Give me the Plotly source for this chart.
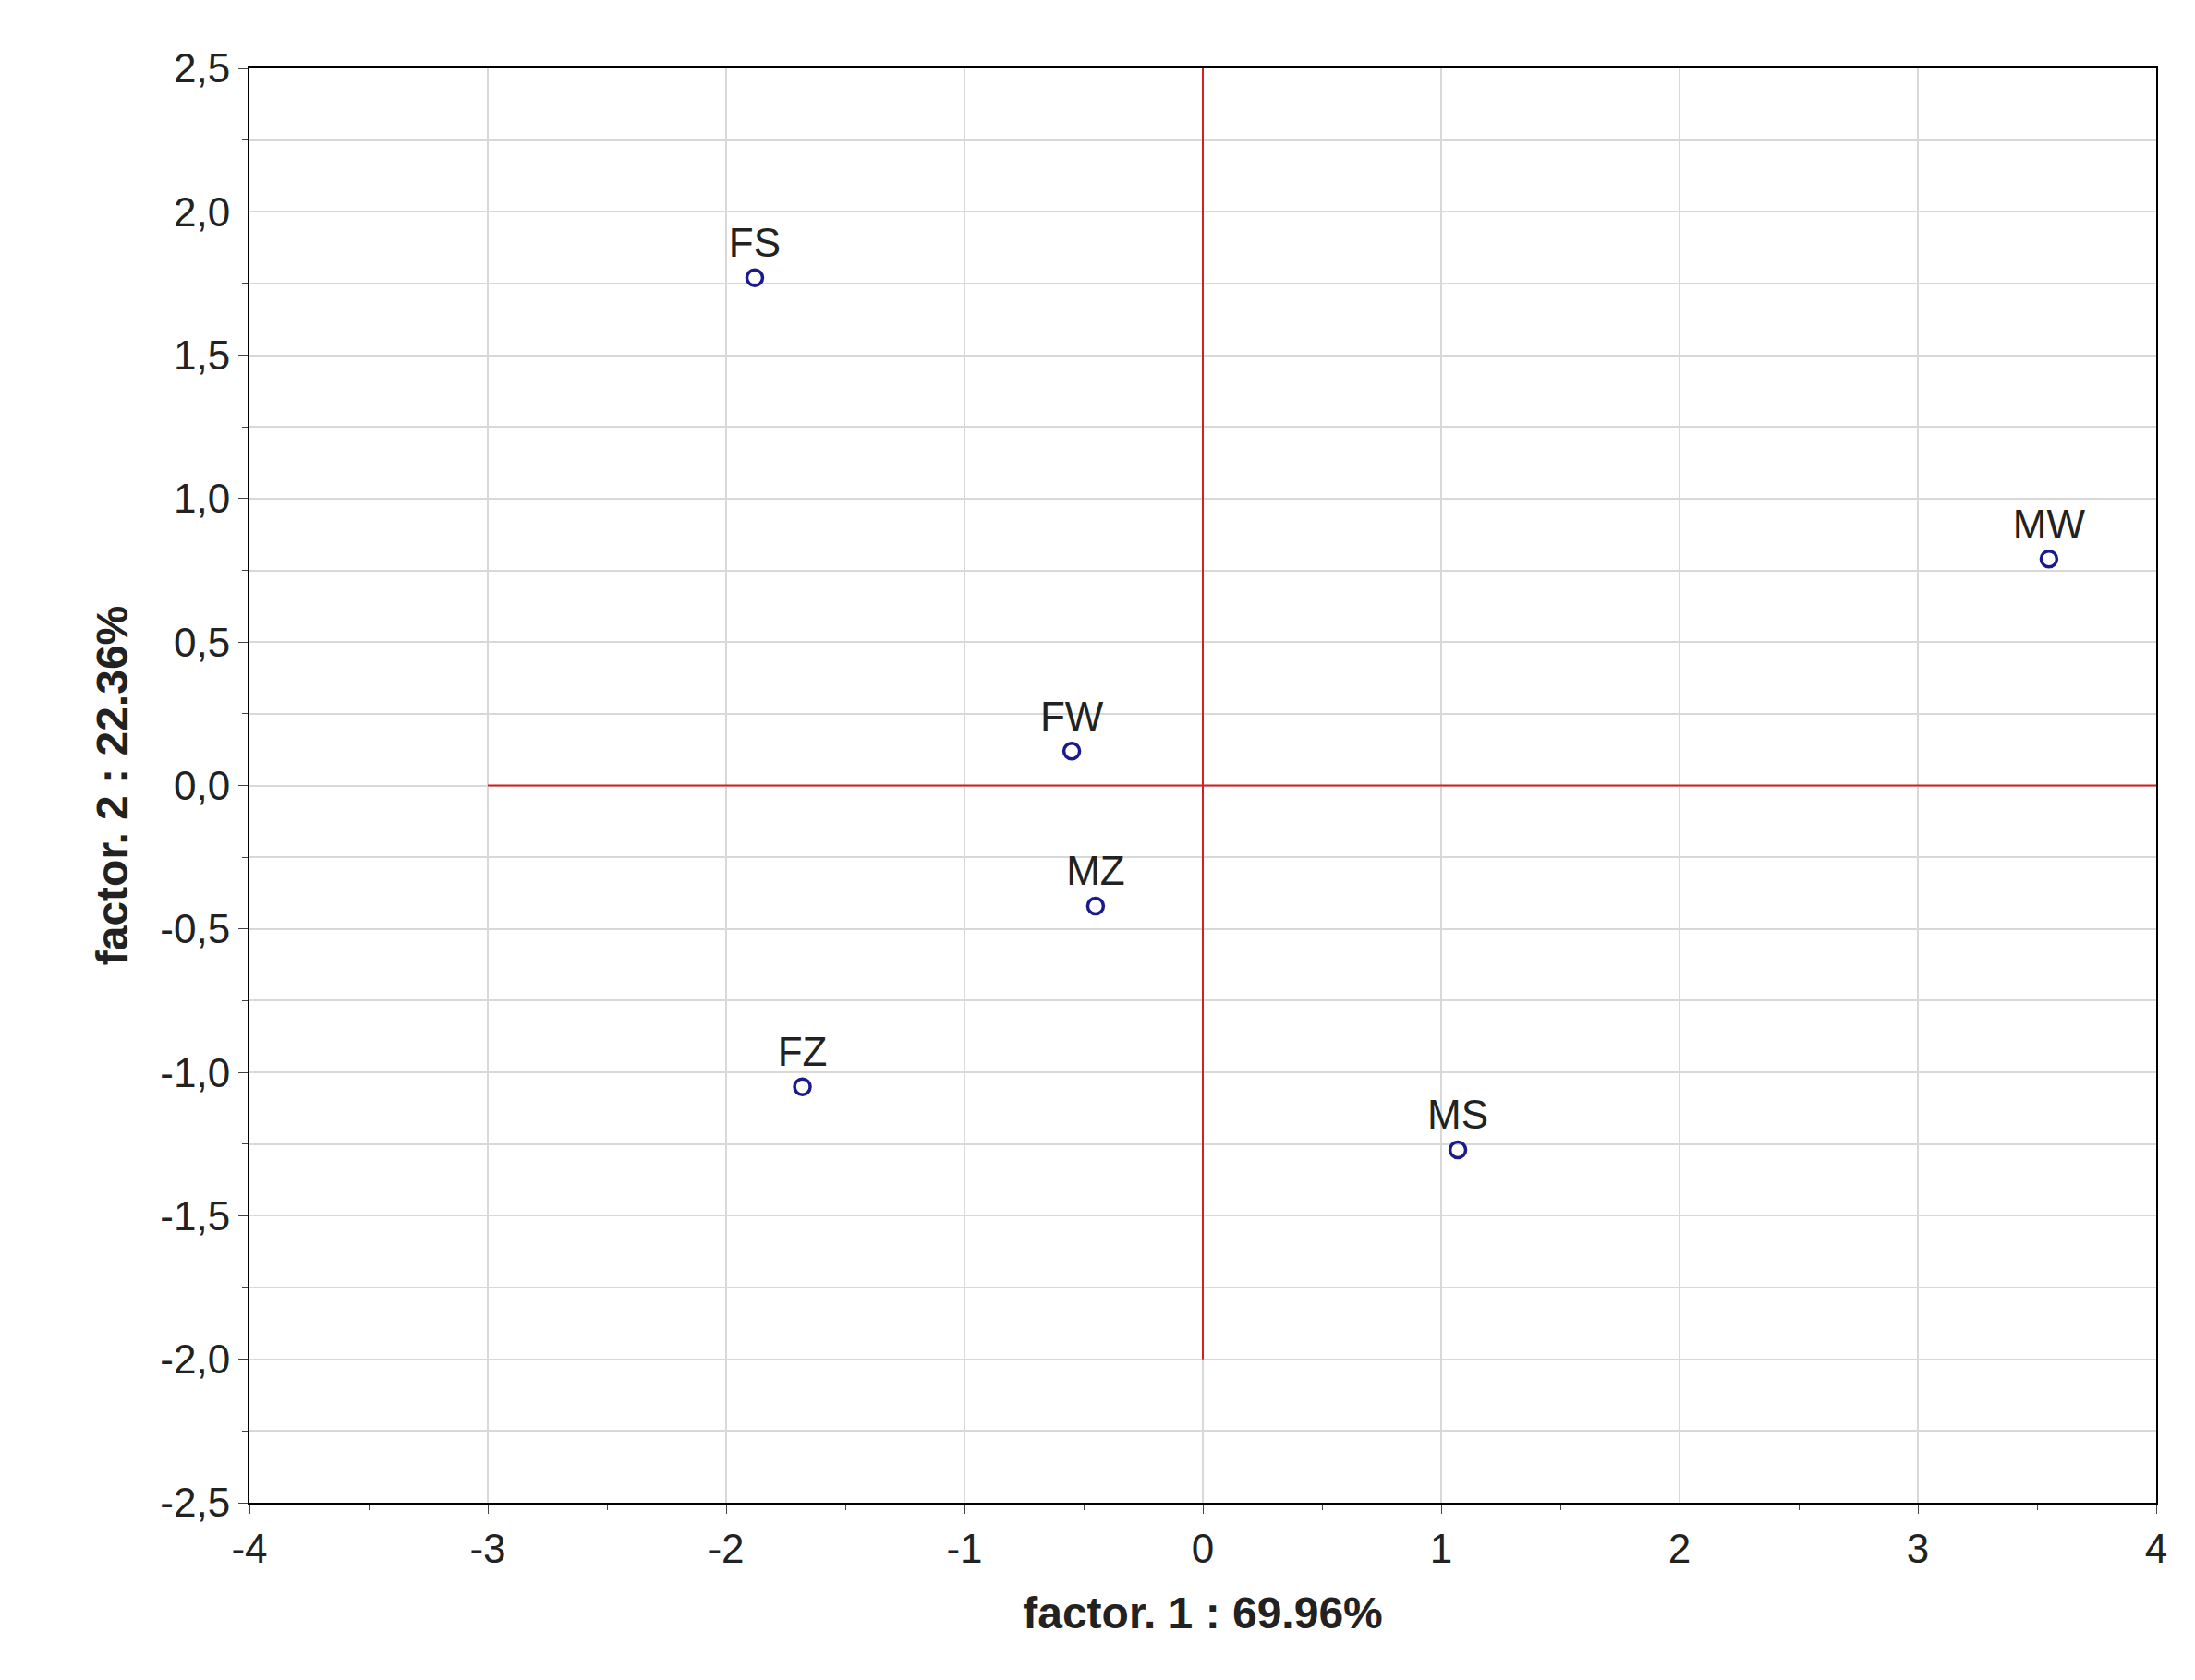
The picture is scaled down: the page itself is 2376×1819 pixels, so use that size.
import plotly.graph_objects as go

labels = ["FS", "MW", "FW", "MZ", "FZ", "MS"]
f1 = [-1.88, 3.55, -0.55, -0.45, -1.68, 1.07]
f2 = [1.77, 0.79, 0.12, -0.42, -1.05, -1.27]
xticks = [-4, -3, -2, -1, 0, 1, 2, 3, 4]
yticks = [-2.5, -2.0, -1.5, -1.0, -0.5, 0.0, 0.5, 1.0, 1.5, 2.0, 2.5]

fig = go.Figure()
fig.add_trace(go.Scatter(x=[-3, 4], y=[0, 0], mode="lines", line=dict(color="#d42020", width=2), hoverinfo="skip"))
fig.add_trace(go.Scatter(x=[0, 0], y=[-2, 2.5], mode="lines", line=dict(color="#d42020", width=2), hoverinfo="skip"))
fig.add_trace(go.Scatter(x=f1, y=f2, mode="markers+text", text=labels, textposition="top center",
                         textfont=dict(family="Arial, Liberation Sans", size=44, color="#222"),
                         marker=dict(symbol="circle-open", size=17, color="#1a1a8c", line=dict(width=3.5))))
fig.update_layout(
    width=2376, height=1819, showlegend=False, plot_bgcolor="white", paper_bgcolor="white",
    margin=dict(l=262, r=50, t=66, b=200),
    font=dict(family="Arial, Liberation Sans", size=44, color="#222"),
)
fig.update_xaxes(range=[-4, 4], tickvals=xticks, ticktext=[str(v).replace("-", "-") for v in xticks],
                 showgrid=True, gridcolor="#d8d8d8", gridwidth=2,
                 showline=True, linecolor="black", linewidth=2, mirror=True, zeroline=False,
                 ticks="outside", ticklen=10, minor=dict(dtick=0.5, ticks="outside", ticklen=6),
                 title=dict(text="<b>factor. 1 : 69.96%</b>", font=dict(size=48), standoff=30))
fig.update_yaxes(range=[-2.5, 2.5], tickvals=yticks, ticktext=[f"{v:.1f}".replace(".", ",") for v in yticks],
                 showgrid=True, gridcolor="#d8d8d8", gridwidth=2,
                 showline=True, linecolor="black", linewidth=2, mirror=True, zeroline=False,
                 ticks="outside", ticklen=10, minor=dict(dtick=0.25, ticks="outside", ticklen=6, showgrid=True, gridcolor="#d8d8d8"),
                 title=dict(text="<b>factor. 2 : 22.36%</b>", font=dict(size=48), standoff=20))
fig.write_html("out.html")
